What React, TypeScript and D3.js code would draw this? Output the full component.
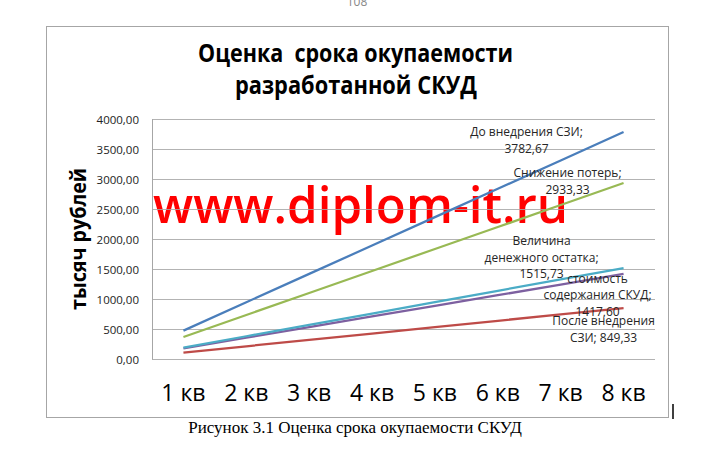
import React from "react";
import * as d3 from "d3";

const categories = ["1 кв", "2 кв", "3 кв", "4 кв", "5 кв", "6 кв", "7 кв", "8 кв"];
const yTicks = [0, 500, 1000, 1500, 2000, 2500, 3000, 3500, 4000];

const seriesNames = [
  "До внедрения СЗИ",
  "После внедрения СЗИ",
  "Снижение потерь",
  "стоимость содержания СКУД",
  "Величина денежного остатка",
];
const beforeSZI = [472.83, 945.67, 1418.5, 1891.33, 2364.17, 2837.0, 3309.83, 3782.67];
const afterSZI = [106.17, 212.33, 318.5, 424.67, 530.83, 637.0, 743.17, 849.33];
const lossReduction = [366.67, 733.33, 1100.0, 1466.67, 1833.33, 2200.0, 2566.67, 2933.33];
const maintenanceCost = [177.2, 354.4, 531.6, 708.8, 886.0, 1063.2, 1240.4, 1417.6];
const cashBalance = [189.47, 378.93, 568.4, 757.87, 947.33, 1136.8, 1326.27, 1515.73];

const labelLines = [
  ["До внедрения СЗИ;", "3782,67"],
  ["После внедрения", "СЗИ; 849,33"],
  ["Снижение потерь;", "2933,33"],
  ["стоимость", "содержания СКУД;", "1417,60"],
  ["Величина", "денежного остатка;", "1515,73"],
];

const titleLines = ["Оценка\u00A0 срока окупаемости", "разработанной СКУД"];
const yAxisTitle = "тысяч рублей";
const watermark = "www.diplom-it.ru";
const caption = "Рисунок 3.1 Оценка срока окупаемости СКУД";
const pageNumber = "108";

const seriesValues = [beforeSZI, afterSZI, lossReduction, maintenanceCost, cashBalance];
const colors = ["#4A7EBB", "#BE4B48", "#98B954", "#7D60A0", "#4BACC6"];
// label offsets relative to last point: [dx center, dy of first baseline]
const labelOffsets = [
  [-97, 4],
  [-20, 17],
  [-56, -6],
  [-26, 9],
  [-82, -23],
];
const drawOrder = [0, 2, 1, 3, 4];

export default function App() {
  const W = 702, H = 460;
  const x = d3.scaleBand<string>().domain(categories).range([152, 655]).padding(0);
  const y = d3.scaleLinear().domain([0, 4000]).range([359, 119]);
  const cx = (c: string) => (x(c) as number) + x.bandwidth() / 2;
  const line = d3
    .line<number>()
    .x((_, i) => cx(categories[i]))
    .y((d) => y(d));
  const fmt = (v: number) => v.toFixed(2).replace(".", ",");
  const labelFont = "'Open Sans', sans-serif";

  return (
    <svg
      width={W}
      height={H}
      style={{ position: "absolute", left: 0, top: 0, background: "#fff" }}
      fontFamily={labelFont}
    >
      <rect x={0} y={0} width={W} height={H} fill="#fff" />
      <text x={357} y={6} fontSize={12} fill="#888" textAnchor="middle">{pageNumber}</text>
      <rect x={46.5} y={26.5} width={622} height={391} fill="#fff" stroke="#a6a6a6" strokeWidth={1} />

      {/* title */}
      <text x={355.5} y={62} fontSize={25} fontWeight={700} textAnchor="middle" fill="#000"
        textLength={315} lengthAdjust="spacingAndGlyphs">{titleLines[0]}</text>
      <text x={356} y={94} fontSize={25} fontWeight={700} textAnchor="middle" fill="#000"
        textLength={242} lengthAdjust="spacingAndGlyphs">{titleLines[1]}</text>

      {/* watermark */}
      <text x={153} y={223} fontSize={50} fontWeight={600} fill="#FF0000"
        textLength={415} lengthAdjust="spacingAndGlyphs">{watermark}</text>

      {/* gridlines */}
      {yTicks.map((t) => (
        <line key={t} x1={152} x2={655} y1={y(t) + 0.5} y2={y(t) + 0.5} stroke="#a6a6a6" strokeOpacity={0.85} strokeWidth={1} />
      ))}
      <line x1={152.5} x2={152.5} y1={y(4000)} y2={y(0) + 0.5} stroke="#a6a6a6" strokeWidth={1} />

      {/* y tick labels */}
      {yTicks.map((t) => (
        <text key={t} x={139} y={y(t) + 4.5} fontSize={11.5} textAnchor="end" fill="#222">{fmt(t)}</text>
      ))}

      {/* y axis title */}
      <text transform={`translate(86,239) rotate(-90)`} fontSize={22} fontWeight={700} textAnchor="middle" fill="#000"
        textLength={142} lengthAdjust="spacingAndGlyphs">{yAxisTitle}</text>

      {/* lines */}
      {drawOrder.map((si) => (
        <path key={si} d={line(seriesValues[si]) || ""} fill="none" stroke={colors[si]} strokeWidth={2.25} />
      ))}

      {/* data labels */}
      {seriesValues.map((vals, si) => {
        const lx = cx(categories[categories.length - 1]) + labelOffsets[si][0];
        const ly = y(vals[vals.length - 1]) + labelOffsets[si][1];
        return (
          <text key={si} fontSize={12} textAnchor="middle" fill="#262626">
            {labelLines[si].map((s, k) => (
              <tspan key={k} x={lx} y={ly + k * 16.5}>{s}</tspan>
            ))}
          </text>
        );
      })}

      {/* x labels */}
      {categories.map((c) => (
        <text key={c} x={cx(c)} y={401} fontSize={23} textAnchor="middle" fill="#000">{c}</text>
      ))}

      {/* cursor */}
      <line x1={673} x2={673} y1={404} y2={419} stroke="#000" strokeWidth={1.5} />

      {/* caption */}
      <text x={355} y={433} fontSize={17} fontFamily="'Liberation Serif', 'Times New Roman', serif" textAnchor="middle" fill="#000">{caption}</text>
    </svg>
  );
}
